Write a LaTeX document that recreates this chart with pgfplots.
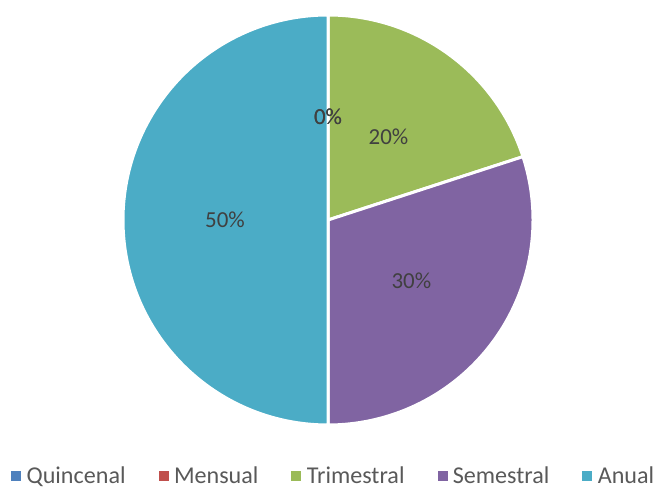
\documentclass[border=0pt]{standalone}
\usepackage{pgfplots}
\usepackage{pgfplotstable}
\pgfplotsset{compat=1.18}
\usepackage{fontspec}
\setmainfont{Carlito}
\definecolor{cQ}{HTML}{4F81BD}
\definecolor{cM}{HTML}{C0504D}
\definecolor{cT}{HTML}{9BBB59}
\definecolor{cS}{HTML}{8064A2}
\definecolor{cA}{HTML}{4BACC6}
\definecolor{labtext}{HTML}{404040}
\definecolor{legtext}{HTML}{595959}
\newcommand\labfont{\fontsize{23}{27}\selectfont}
\pgfplotstableread[col sep=comma]{
name,value,color
Quincenal,0,cQ
Mensual,0,cM
Trimestral,20,cT
Semestral,30,cS
Anual,50,cA
}\piedata
\begin{document}
\begin{tikzpicture}
\begin{axis}[
  x=1bp, y=1bp, xmin=0, xmax=658, ymin=0, ymax=487,
  scale only axis, hide axis, clip=false,
  legend columns=5,
  legend style={draw=none, fill=none, inner sep=0pt,
    at={(axis cs:11,11)}, anchor=west,
    font=\fontsize{24.2}{28}\selectfont, text=legtext,
    nodes={inner ysep=0pt},
    /tikz/every odd column/.style={column sep=4bp},
    /tikz/every even column/.style={column sep=31bp}},
  legend image code/.code={\fill[#1] (0bp,-4.5bp) rectangle (9bp,4.5bp);},
]
\addlegendimage{cQ}\addlegendentry{Quincenal}
\addlegendimage{cM}\addlegendentry{Mensual}
\addlegendimage{cT}\addlegendentry{Trimestral}
\addlegendimage{cS}\addlegendentry{Semestral}
\addlegendimage{cA}\addlegendentry{Anual}
\def\cum{0}
\pgfplotsforeachungrouped \i in {0,...,4}{%
  \pgfplotstablegetelem{\i}{value}\of\piedata \let\val\pgfplotsretval
  \pgfplotstablegetelem{\i}{color}\of\piedata \let\col\pgfplotsretval
  \pgfmathsetmacro\aS{90-3.6*\cum}%
  \pgfmathsetmacro\aE{90-3.6*(\cum+\val)}%
  \pgfmathsetmacro\cum{\cum+\val}%
  \edef\temp{\noexpand\filldraw[fill=\col, draw=white, line width=3bp, line join=round] (axis cs:328,267) -- ++(\aS:205bp) arc[start angle=\aS, end angle=\aE, radius=205bp] -- cycle;}%
  \temp
}
\def\cum{0}
\pgfplotsforeachungrouped \i in {0,...,4}{%
  \pgfplotstablegetelem{\i}{value}\of\piedata \let\val\pgfplotsretval
  \pgfmathsetmacro\aS{90-3.6*\cum}%
  \pgfmathsetmacro\aE{90-3.6*(\cum+\val)}%
  \pgfmathsetmacro\aM{(\aS+\aE)/2}%
  \pgfmathsetmacro\cum{\cum+\val}%
  \edef\temp{\noexpand\path (axis cs:328,267) ++(\aM:103bp) node[text=labtext, font=\noexpand\labfont] {\val\noexpand\%};}%
  \temp
}
\end{axis}
\pgfresetboundingbox
\path (current axis.south west) rectangle (current axis.north east);
\end{tikzpicture}
\end{document}
